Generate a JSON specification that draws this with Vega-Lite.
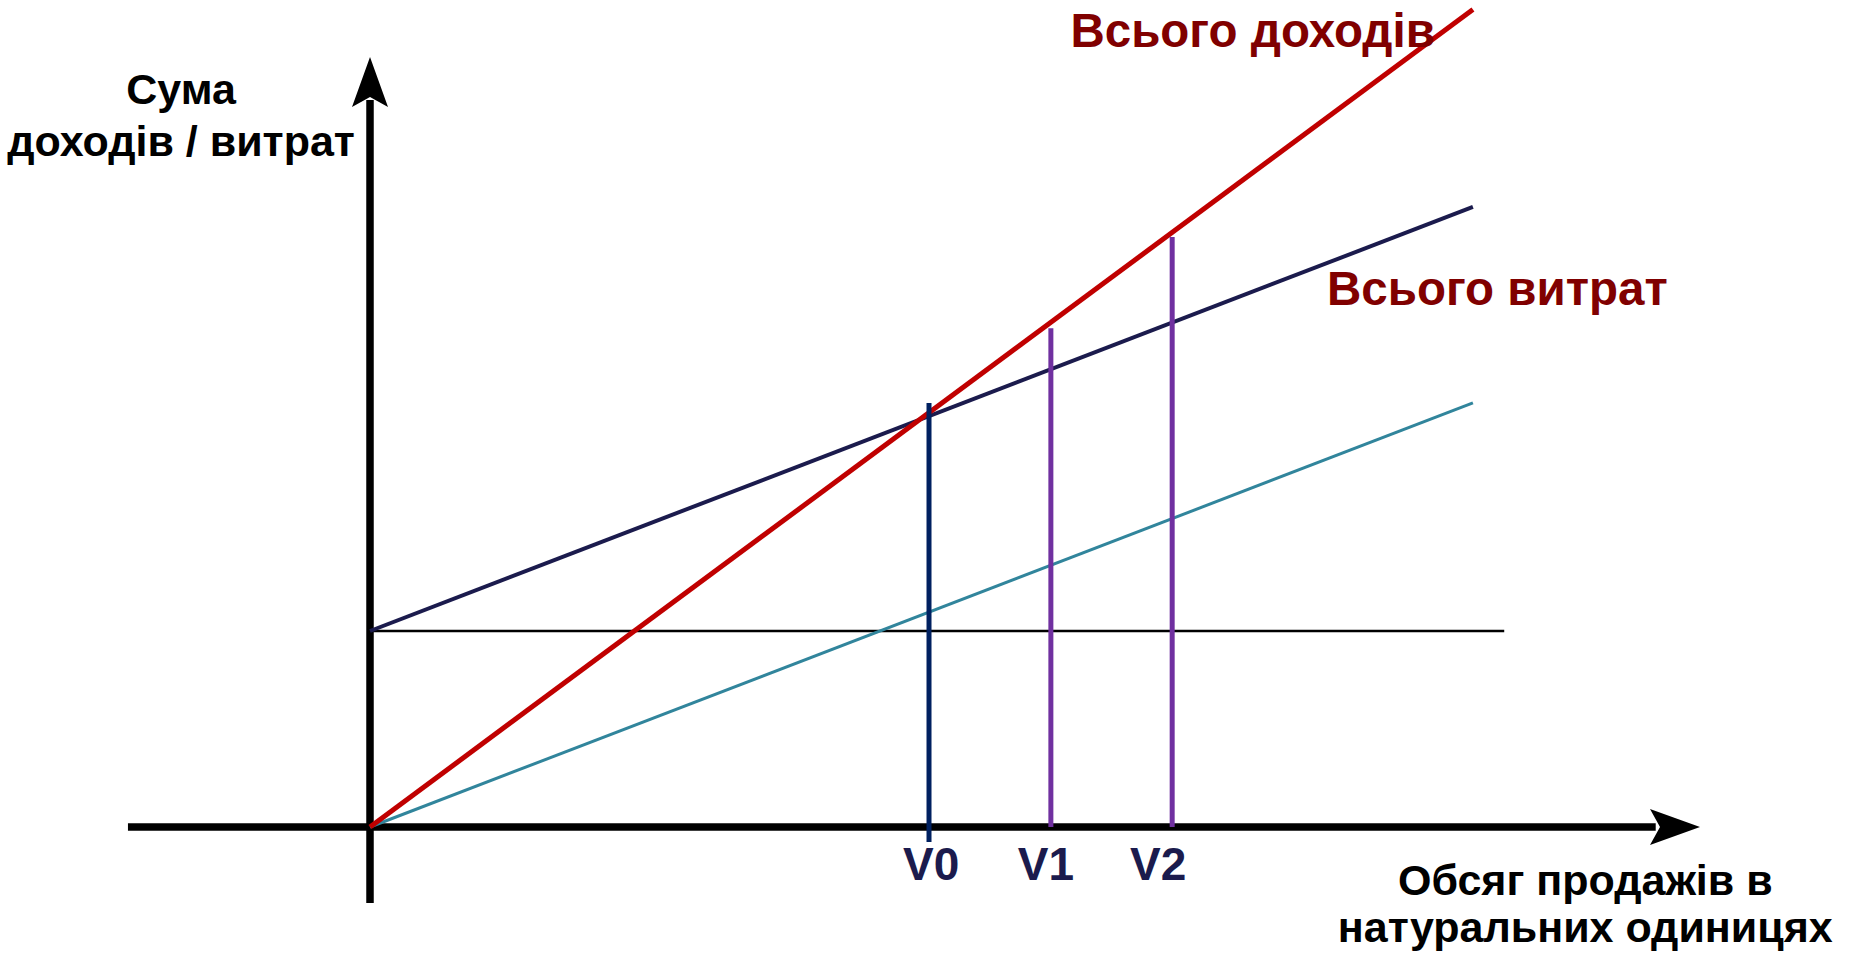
{
  "$schema": "https://vega.github.io/schema/vega-lite/v6.json",
  "width": 1855,
  "height": 953,
  "padding": 0,
  "autosize": {"type": "none"},
  "background": "white",
  "config": {"view": {"stroke": null}},
  "datasets": {
    "lines": [
      {"series": "Постійні витрати", "x": 0, "y": 200},
      {"series": "Постійні витрати", "x": 202.9, "y": 200},
      {"series": "Змінні витрати", "x": 0, "y": 0},
      {"series": "Змінні витрати", "x": 197.3, "y": 432.7},
      {"series": "Всього витрат", "x": 0, "y": 200},
      {"series": "Всього витрат", "x": 197.3, "y": 632.7},
      {"series": "Всього доходів", "x": 0, "y": 0},
      {"series": "Всього доходів", "x": 197.3, "y": 834.2}
    ],
    "levels": [
      {"level": "V0", "x": 100, "y0": -15.3, "y1": 432.7},
      {"level": "V1", "x": 121.8, "y0": 0, "y1": 509},
      {"level": "V2", "x": 143.5, "y0": 0, "y1": 602}
    ],
    "axes": [
      {"axis": "x", "x": -43.3, "y": 0, "x2": 230, "y2": 0},
      {"axis": "y", "x": 0, "y": -77.6, "x2": 0, "y2": 741.8}
    ],
    "arrows": [
      {"axis": "y", "x": 0, "y": 760.2},
      {"axis": "x", "x": 233.45, "y": 0}
    ],
    "seriesLabels": [
      {"label": "Всього доходів", "x": 125.3, "y": 795.9},
      {"label": "Всього витрат", "x": 171.2, "y": 532.7}
    ],
    "levelLabels": [
      {"label": "V0", "x": 100.4, "y": -54.1},
      {"label": "V1", "x": 120.9, "y": -54.1},
      {"label": "V2", "x": 141.0, "y": -54.1}
    ],
    "axisTitles": [
      {"axis": "y", "label": "Сума\nдоходів / витрат", "x": -33.8, "y": 737.8},
      {"axis": "x", "label": "Обсяг продажів в\nнатуральних одиницях", "x": 217.4, "y": -69.4}
    ]
  },
  "encoding": {
    "x": {"field": "x", "type": "quantitative", "scale": {"domain": [-66.19, 265.65], "nice": false, "zero": false}, "axis": null},
    "y": {"field": "y", "type": "quantitative", "scale": {"domain": [-128.57, 843.88], "nice": false, "zero": false}, "axis": null}
  },
  "layer": [
    {
      "data": {"name": "axes"},
      "mark": {"type": "rule", "color": "#000000", "strokeWidth": 7.5},
      "encoding": {
        "x2": {"field": "x2"},
        "y2": {"field": "y2"}
      }
    },
    {
      "data": {"name": "arrows"},
      "mark": {"type": "point", "filled": true, "opacity": 1, "color": "#000000", "size": 2500, "shape": "M0,-1L0.72,1L0,0.6L-0.72,1Z"},
      "encoding": {
        "angle": {"field": "axis", "type": "nominal", "scale": {"domain": ["y", "x"], "range": [0, 90]}, "legend": null}
      }
    },
    {
      "data": {"name": "lines"},
      "transform": [{"filter": "datum.series === 'Постійні витрати'"}],
      "mark": {"type": "line", "color": "#000000", "strokeWidth": 2.5, "strokeCap": "butt"},
      "encoding": {}
    },
    {
      "data": {"name": "lines"},
      "transform": [{"filter": "datum.series === 'Змінні витрати'"}],
      "mark": {"type": "line", "color": "#31859c", "strokeWidth": 3, "strokeCap": "butt"},
      "encoding": {}
    },
    {
      "data": {"name": "lines"},
      "transform": [{"filter": "datum.series === 'Всього витрат'"}],
      "mark": {"type": "line", "color": "#1b1b4d", "strokeWidth": 4, "strokeCap": "butt"},
      "encoding": {}
    },
    {
      "data": {"name": "lines"},
      "transform": [{"filter": "datum.series === 'Всього доходів'"}],
      "mark": {"type": "line", "color": "#c00000", "strokeWidth": 5, "strokeCap": "butt"},
      "encoding": {}
    },
    {
      "data": {"name": "levels"},
      "transform": [{"filter": "datum.level === 'V0'"}],
      "mark": {"type": "rule", "strokeWidth": 5, "color": "#002060"},
      "encoding": {
        "y": {"field": "y0", "type": "quantitative"},
        "y2": {"field": "y1"}
      }
    },
    {
      "data": {"name": "levels"},
      "transform": [{"filter": "datum.level !== 'V0'"}],
      "mark": {"type": "rule", "strokeWidth": 5, "color": "#7030a0"},
      "encoding": {
        "y": {"field": "y0", "type": "quantitative"},
        "y2": {"field": "y1"}
      }
    },
    {
      "data": {"name": "seriesLabels"},
      "mark": {"type": "text", "align": "left", "baseline": "alphabetic", "font": "Liberation Sans", "fontWeight": "bold", "fontSize": 47.5, "color": "#800000"},
      "encoding": {
        "text": {"field": "label"}
      }
    },
    {
      "data": {"name": "levelLabels"},
      "mark": {"type": "text", "align": "center", "baseline": "alphabetic", "font": "Liberation Sans", "fontWeight": "bold", "fontSize": 46, "color": "#1b1b4d"},
      "encoding": {
        "text": {"field": "label"}
      }
    },
    {
      "data": {"name": "axisTitles"},
      "transform": [{"filter": "datum.axis === 'y'"}],
      "mark": {"type": "text", "align": "center", "baseline": "alphabetic", "font": "Liberation Sans", "fontWeight": "bold", "fontSize": 43, "lineHeight": 52, "lineBreak": "\n", "color": "#000000"},
      "encoding": {
        "text": {"field": "label"}
      }
    },
    {
      "data": {"name": "axisTitles"},
      "transform": [{"filter": "datum.axis === 'x'"}],
      "mark": {"type": "text", "align": "center", "baseline": "alphabetic", "font": "Liberation Sans", "fontWeight": "bold", "fontSize": 43, "lineHeight": 47, "lineBreak": "\n", "color": "#000000"},
      "encoding": {
        "text": {"field": "label"}
      }
    }
  ]
}
